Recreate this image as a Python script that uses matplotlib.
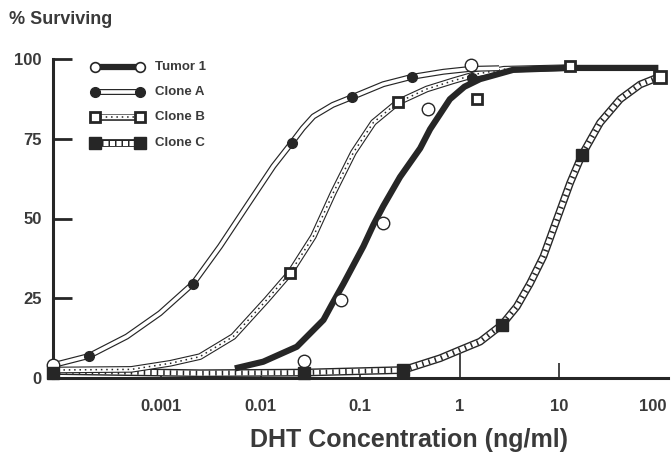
import matplotlib
matplotlib.use("Agg")
import matplotlib.pyplot as plt
import matplotlib.transforms as mtransforms

# curvas y puntos (x en ng/ml, y en % sobrevivencia)
tumor_x = [0.0055, 0.0106, 0.0231, 0.0428, 0.0519, 0.0679, 0.108, 0.136, 0.171, 0.252, 0.402, 0.506, 0.80, 1.12, 1.61, 3.46, 12, 100]
tumor_y = [3.0, 5.1, 9.8, 18.2, 23, 29.5, 41.3, 48, 53.9, 63, 72, 78, 87.4, 91.3, 93.7, 96.6, 97.2, 97.2]
tumor_px = [8.2e-5, 0.0274, 0.064, 0.169, 0.486, 1.3]
tumor_py = [4, 5.3, 24.3, 48.6, 84.3, 98.1]

cloneA_x = [8.1e-5, 1.87e-4, 4.5e-4, 9.7e-4, 2.09e-3, 3.91e-3, 7.25e-3, 0.01343, 0.0206, 0.0265, 0.0339, 0.053, 0.0837, 0.171, 0.331, 0.689, 1.28, 2.5]
cloneA_y = [4.0, 6.9, 13, 20.3, 29.6, 41.3, 53.9, 66.4, 73.8, 78.3, 82.0, 85.6, 88.1, 92.1, 94.4, 96, 96.9, 97.1]
cloneA_px = [1.87e-4, 2.09e-3, 0.0206, 0.0837, 0.331, 1.33]
cloneA_py = [6.9, 29.6, 73.8, 88.1, 94.4, 94.2]

cloneB_x = [8.1e-5, 5e-4, 1.23e-3, 2.45e-3, 5.3e-3, 0.0115, 0.0198, 0.0339, 0.0538, 0.0857, 0.136, 0.239, 0.469, 0.869, 1.49, 2.8, 12.9]
cloneB_y = [2.5, 2.7, 4.6, 6.7, 13, 24.5, 33, 44.4, 58.1, 70.7, 80.1, 86.4, 90.6, 93.2, 95.3, 96.8, 97.3]
cloneB_px = [0.0198, 0.239, 1.49, 12.9]
cloneB_py = [32.9, 86.4, 87.6, 97.7]

cloneC_x = [8.1e-5, 2.45e-3, 0.0274, 0.271, 0.638, 1.01, 1.61, 2.67, 3.77, 5.13, 6.98, 9.52, 12.97, 17.1, 25.9, 41.3, 65.6, 104]
cloneC_y = [2.2, 1.5, 1.7, 2.5, 6.2, 8.8, 11.4, 16.7, 22.4, 29.7, 38.1, 49.7, 61.2, 70, 80, 87.4, 92, 94.5]
cloneC_px = [8.2e-5, 0.0274, 0.271, 2.67, 17.1, 104]
cloneC_py = [1.5, 1.7, 2.5, 16.7, 69.8, 94.5]

xticks = [0.001, 0.01, 0.1, 1, 10, 100]
xticklabels = ["0.001", "0.01", "0.1", "1", "10", "100"]
yticks = [0, 25, 50, 75, 100]

ink = "#262626"
txt = "#3a3a3a"
plt.rcParams["font.family"] = ["Liberation Sans", "DejaVu Sans"]
plt.rcParams["font.weight"] = "bold"

fig = plt.figure(figsize=(6.71, 4.58), dpi=100)
ax = fig.add_axes([53 / 671, 1 - 378 / 458, 615 / 671, 319 / 458])
ax.set_xscale("log")
ax.set_xlim(8.15e-5, 125)
ax.set_ylim(0, 100)


def hollow(x, y, outer, inner, z, trans=None):
    kw = {} if trans is None else {"transform": trans, "clip_on": False}
    ax.plot(x, y, color=ink, lw=outer, solid_capstyle="butt", solid_joinstyle="round", zorder=z, **kw)
    ax.plot(x, y, color="white", lw=inner, solid_capstyle="butt", solid_joinstyle="round", zorder=z + 0.1, **kw)


def draw_a(x, y, z, trans=None):
    hollow(x, y, 4.3, 2.6, z, trans)


def draw_b(x, y, z, trans=None):
    kw = {} if trans is None else {"transform": trans, "clip_on": False}
    hollow(x, y, 4.8, 3.2, z, trans)
    ax.plot(x, y, color=ink, lw=1.1, ls=(0, (1, 2.5)), zorder=z + 0.2, **kw)


def draw_c(x, y, z, trans=None):
    kw = {} if trans is None else {"transform": trans, "clip_on": False}
    hollow(x, y, 5.6, 3.6, z, trans)
    ax.plot(x, y, color=ink, lw=3.6, ls=(0, (0.3, 1.0)), dash_capstyle="butt", zorder=z + 0.2, **kw)


def draw_t(x, y, z, trans=None):
    kw = {} if trans is None else {"transform": trans, "clip_on": False}
    ax.plot(x, y, color=ink, lw=4.5, solid_capstyle="butt", solid_joinstyle="round", zorder=z, **kw)


# curvas
draw_c(cloneC_x, cloneC_y, 2)
draw_b(cloneB_x, cloneB_y, 3)
draw_a(cloneA_x, cloneA_y, 4)
draw_t(tumor_x, tumor_y, 5)

# puntos
ax.plot(tumor_px, tumor_py, ls="none", marker="o", ms=9, mfc="white", mec=ink, mew=1, zorder=8, clip_on=False)
ax.plot(cloneA_px, cloneA_py, ls="none", marker="o", ms=7, mfc=ink, mec=ink, zorder=8, clip_on=False)
ax.plot(cloneB_px, cloneB_py, ls="none", marker="s", ms=7, mfc="white", mec=ink, mew=2, zorder=8, clip_on=False)
ax.plot(cloneC_px[:-1], cloneC_py[:-1], ls="none", marker="s", ms=8, mfc=ink, mec=ink, zorder=8, clip_on=False)
ax.plot(cloneC_px[-1:], cloneC_py[-1:], ls="none", marker="s", ms=8, mfc="white", mec=ink, mew=2, zorder=8, clip_on=False)

# leyenda
leg_names = ["Tumor 1", "Clone A", "Clone B", "Clone C"]
leg_y = [0.975, 0.895, 0.817, 0.738]
lx = [0.068, 0.141]
tr = ax.transAxes
draw_t(lx, [leg_y[0]] * 2, 20, tr)
ax.plot(lx, [leg_y[0]] * 2, ls="none", marker="o", ms=7, mfc="white", mec=ink, mew=1.2, transform=tr, clip_on=False, zorder=22)
draw_a(lx, [leg_y[1]] * 2, 20, tr)
ax.plot(lx, [leg_y[1]] * 2, ls="none", marker="o", ms=7, mfc=ink, mec=ink, transform=tr, clip_on=False, zorder=22)
draw_b(lx, [leg_y[2]] * 2, 20, tr)
ax.plot(lx, [leg_y[2]] * 2, ls="none", marker="s", ms=7, mfc="white", mec=ink, mew=2, transform=tr, clip_on=False, zorder=22)
draw_c(lx, [leg_y[3]] * 2, 20, tr)
ax.plot(lx, [leg_y[3]] * 2, ls="none", marker="s", ms=8, mfc=ink, mec=ink, transform=tr, clip_on=False, zorder=22)
for name, yy in zip(leg_names, leg_y):
    ax.text(0.166, yy, name, transform=tr, fontsize=9.5, color=txt, va="center", ha="left")

# ejes
for s in ["top", "right"]:
    ax.spines[s].set_visible(False)
for s in ["left", "bottom"]:
    ax.spines[s].set_linewidth(2.2)
    ax.spines[s].set_color(ink)
ax.spines["left"].set_zorder(1)

ax.set_xticks(xticks)
ax.set_xticklabels(xticklabels)
ax.minorticks_off()
ax.tick_params(axis="x", direction="in", length=4, width=1.2, color=ink, labelsize=12, labelcolor=txt, pad=15)
lens = [4, 4, 4, 17, 11, 0]
for t, L in zip(ax.xaxis.get_major_ticks(), lens):
    t.tick1line.set_markersize(L)
# "100" un poco a la izquierda para que quepa
lab = ax.get_xticklabels()[-1]
lab.set_transform(lab.get_transform() + mtransforms.ScaledTranslation(-4 / 72, 0, fig.dpi_scale_trans))

ax.set_yticks(yticks)
ax.tick_params(axis="y", direction="in", length=14, width=2, color=ink, labelsize=12, labelcolor=txt, pad=8)
ax.yaxis.get_major_ticks()[0].tick1line.set_markersize(0)

fig.text(0.013, 1 - 20 / 458, "% Surviving", fontsize=13, color=txt, va="center", ha="left")
fig.text(409 / 671, 1 - 440 / 458, "DHT Concentration (ng/ml)", fontsize=18, color=txt, va="center", ha="center")

fig.savefig("out.png", dpi=100, facecolor="white")
